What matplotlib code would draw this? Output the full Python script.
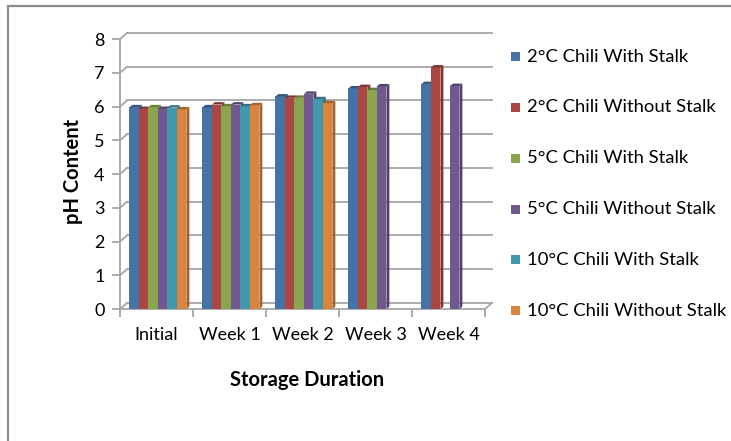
import numpy as np
import matplotlib
matplotlib.use("Agg")
import matplotlib.pyplot as plt
from matplotlib.patches import Polygon, Rectangle

plt.rcParams['font.family'] = ['Lato', 'DejaVu Sans']

categories = ["Initial", "Week 1", "Week 2", "Week 3", "Week 4"]
series_names = ["2°C Chili With Stalk", "2°C Chili Without Stalk",
                "5°C Chili With Stalk", "5°C Chili Without Stalk",
                "10°C Chili With Stalk", "10°C Chili Without Stalk"]
nan = np.nan
s2_with = [5.98, 5.98, 6.30, 6.54, 6.67]
s2_without = [5.93, 6.06, 6.26, 6.58, 7.16]
s5_with = [5.98, 6.01, 6.26, 6.49, nan]
s5_without = [5.93, 6.06, 6.38, 6.60, 6.61]
s10_with = [5.97, 6.01, 6.22, nan, nan]
s10_without = [5.92, 6.04, 6.10, nan, nan]
series = [s2_with, s2_without, s5_with, s5_without, s10_with, s10_without]
yticks = [0, 1, 2, 3, 4, 5, 6, 7, 8]

colors = ["#4572A7", "#AA4643", "#89A54E", "#71588F", "#4198AF", "#DB843D"]
side_colors = ["#345780", "#7f3432", "#677c3a", "#54416b", "#307185", "#a4622d"]

W, H = 731, 441
fig = plt.figure(figsize=(W / 100, H / 100), dpi=100)

# outer chart border
fig.patches.append(Rectangle((8 / W, -0.02), 1.1, 1 - 6 / H + 0.02, transform=fig.transFigure,
                             fill=False, edgecolor="#8c8c8c", linewidth=1.6))

x0, x1 = 120, 492
y0, y1 = 309, 33
ax = fig.add_axes([x0 / W, 1 - y0 / H, (x1 - x0) / W, (y0 - y1) / H])
dx, dy = 0.096, 0.18
ax.set_xlim(-0.5, 4.5 + dx)
ax.set_ylim(0, 8 + dy)
for s in ax.spines.values():
    s.set_visible(False)

grid_c = "#a6a6a6"
# walls / gridlines
for v in yticks:
    ax.plot([-0.5, -0.5 + dx], [v, v + dy], color=grid_c, lw=1.3, clip_on=False)
    ax.plot([-0.5 + dx, 4.5 + dx], [v + dy, v + dy], color=grid_c, lw=1.3, clip_on=False)
ax.plot([-0.5, -0.5], [0, 8], color=grid_c, lw=1.3, clip_on=False)
ax.plot([-0.5, 4.5], [0, 0], color=grid_c, lw=1.3, clip_on=False)
ax.plot([4.5, 4.5 + dx], [0, dy], color=grid_c, lw=1.3, clip_on=False)

# bars
n = len(series)
bw = 0.13
sdx, sdy = 0.04, 0.07
xc = np.arange(len(categories))
for i, (vals, c, sc) in enumerate(zip(series, colors, side_colors)):
    offs = xc + (i - (n - 1) / 2) * bw + 0.02
    ax.bar(offs, vals, width=bw, color=c, edgecolor="none", zorder=3)
    for xo, v in zip(offs, vals):
        if np.isnan(v):
            continue
        r = xo + bw / 2
        l = xo - bw / 2
        ax.add_patch(Polygon([(r, 0), (r + sdx, sdy), (r + sdx, v + sdy), (r, v)],
                             closed=True, facecolor=sc, edgecolor="none", zorder=3))
        ax.add_patch(Polygon([(l, v), (l + sdx, v + sdy), (r + sdx, v + sdy), (r, v)],
                             closed=True, facecolor=sc, edgecolor="none", zorder=3))

# ticks
ax.set_yticks(yticks)
ax.set_yticklabels([str(t) for t in yticks], fontsize=13, color="#000000")
ax.tick_params(axis="y", length=6, width=1.3, color=grid_c, pad=5)
ax.set_xticks(xc)
ax.set_xticklabels(categories, fontsize=13)
ax.tick_params(axis="x", which="major", length=0, pad=13)
ax.set_xticks(np.arange(-0.5, 5, 1), minor=True)
ax.tick_params(axis="x", which="minor", length=6, width=1.3, color=grid_c)

ax.set_ylabel("pH Content", fontsize=14.5, fontweight="bold", labelpad=8)
fig.text(307 / W, 1 - 380 / H, "Storage Duration", fontsize=14.5, fontweight="bold",
         ha="center", va="center")

# legend
for i, (name, c) in enumerate(zip(series_names, colors)):
    yc = 56.7 + i * 50.8
    fig.patches.append(Rectangle((511 / W, 1 - (yc + 4.5) / H), 9 / W, 9 / H,
                                 transform=fig.transFigure, facecolor=c, edgecolor="none"))
    fig.text(527 / W, 1 - yc / H, name, fontsize=13.3, ha="left", va="center")

fig.savefig("out.png", dpi=100)
